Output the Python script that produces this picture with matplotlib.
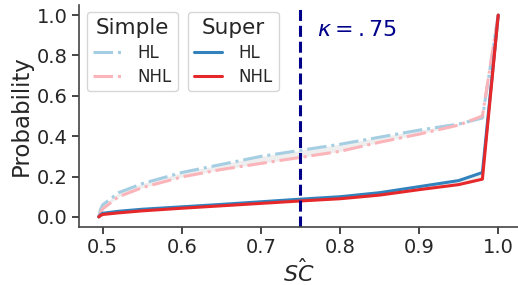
import matplotlib
matplotlib.use("Agg")
import matplotlib.pyplot as plt
import seaborn as sns
import numpy as np

sns.set_theme(style="ticks", font_scale=1.0)
plt.rcParams['font.family'] = ['DejaVu Sans']

sc = [0.495, 0.497, 0.5, 0.52, 0.55, 0.6, 0.65, 0.7, 0.75, 0.8, 0.85, 0.9, 0.95, 0.98, 1.0]
simple_hl = [0.0, 0.035, 0.06, 0.12, 0.165, 0.22, 0.26, 0.30, 0.33, 0.36, 0.395, 0.43, 0.46, 0.49, 1.0]
simple_nhl = [0.0, 0.02, 0.04, 0.10, 0.145, 0.198, 0.235, 0.265, 0.295, 0.325, 0.37, 0.41, 0.455, 0.50, 1.0]
super_hl = [0.0, 0.01, 0.018, 0.028, 0.038, 0.05, 0.062, 0.075, 0.088, 0.10, 0.12, 0.15, 0.18, 0.22, 1.0]
super_nhl = [0.0, 0.006, 0.012, 0.02, 0.03, 0.043, 0.055, 0.067, 0.079, 0.09, 0.108, 0.135, 0.16, 0.187, 1.0]
kappa = 0.75

fig = plt.figure(figsize=(5.18, 2.85), dpi=100)
ax = fig.add_axes([79/518, 1 - 227/285, (518 - 79)/518, (227 - 5)/285])

c_shl = "#a6cee3"
c_snhl = "#fbb4b9"
c_hl = "#3182bd"
c_nhl = "#e6282a"

ax.fill_between(sc, simple_hl, simple_nhl, color="#eeeeee", lw=0)
ax.fill_between(sc, super_hl, super_nhl, color="#eeeeee", lw=0)
l1, = ax.plot(sc, simple_hl, color=c_shl, lw=2.2, ls="-.", label="HL")
l2, = ax.plot(sc, simple_nhl, color=c_snhl, lw=2.2, ls="-.", label="NHL")
l3, = ax.plot(sc, super_hl, color=c_hl, lw=2.2, ls="-", label="HL")
l4, = ax.plot(sc, super_nhl, color=c_nhl, lw=2.2, ls="-", label="NHL")

ax.axvline(kappa, color="#00008b", lw=2.2, ls=(0, (3.6, 1.6)))
ax.text(0.771, 0.925, r"$\kappa = .75$", color="#00008b", fontsize=16,
        va="center", ha="left")

ax.set_xlim(0.47, 1.025)
ax.set_ylim(-0.05, 1.05)
ax.set_xticks([0.5, 0.6, 0.7, 0.8, 0.9, 1.0])
ax.set_yticks([0.0, 0.2, 0.4, 0.6, 0.8, 1.0])
ax.tick_params(labelsize=14, colors="#262626", length=5, width=1.2, pad=3)
for s in ax.spines.values():
    s.set_color("#444444")
    s.set_linewidth(1.2)
ax.set_xlabel(r"$\hat{SC}$", fontsize=16, labelpad=1)
ax.set_ylabel("Probability", fontsize=16.5, labelpad=3)
sns.despine(ax=ax)

common = dict(loc="upper left", fontsize=12, title_fontsize=15.5,
              handlelength=1.7, handletextpad=1.0, borderpad=0.35,
              labelspacing=0.35, borderaxespad=0.0, frameon=True)
leg1 = ax.legend(handles=[l1, l2], title="Simple",
                 bbox_to_anchor=(0.018, 0.968), **common)
ax.add_artist(leg1)
leg2 = ax.legend(handles=[l3, l4], title="Super",
                 bbox_to_anchor=(0.248, 0.968), **common)
for lg in (leg1, leg2):
    for t in lg.get_texts():
        t.set_color("#262626")
    lg.get_title().set_color("#262626")

fig.savefig("out.png", dpi=100)
